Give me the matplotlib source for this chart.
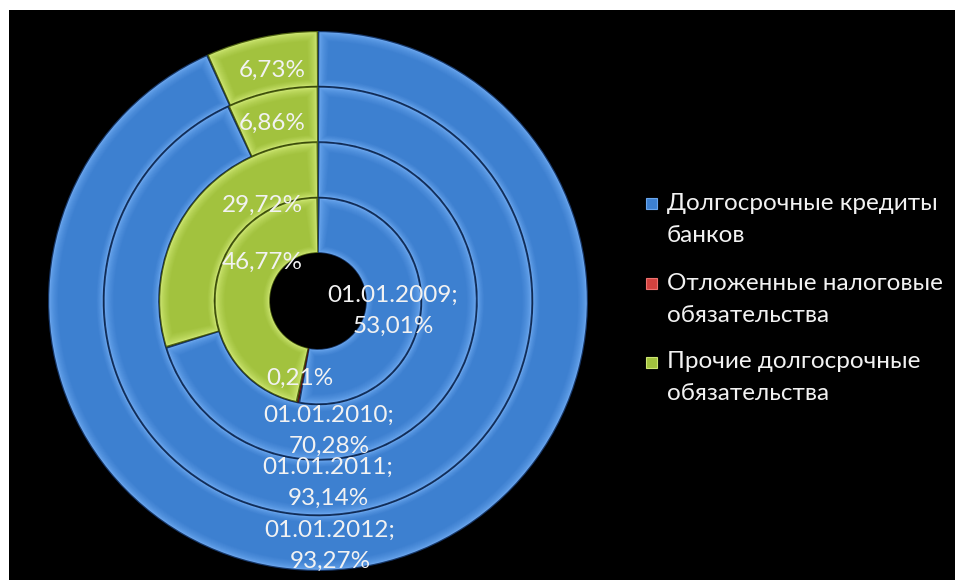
import matplotlib
matplotlib.use("Agg")
import matplotlib.pyplot as plt
from matplotlib.patches import Wedge, Rectangle
from matplotlib.colors import to_rgb
import numpy as np

plt.rcParams['font.family'] = ['Lato', 'DejaVu Sans']

# Data: one ring per reporting date (inner -> outer)
dates = ["01.01.2009", "01.01.2010", "01.01.2011", "01.01.2012"]
series = ["Долгосрочные кредиты\nбанков",
          "Отложенные налоговые\nобязательства",
          "Прочие долгосрочные\nобязательства"]
bank_loans = [53.01, 70.28, 93.14, 93.27]
deferred_tax = [0.21, 0.00, 0.00, 0.00]
other_lt = [46.77, 29.72, 6.86, 6.73]

base_cols = ["#3D80D0", "#D2423F", "#A2C23E"]
light_cols = ["#6AA6EE", "#EE7270", "#CDE672"]
dark_cols = ["#17386A", "#6A1616", "#4E6212"]

W, H = 955, 580
fig = plt.figure(figsize=(W / 100, H / 100), dpi=100, facecolor="white")
ax = fig.add_axes([0, 0, 1, 1])
ax.set_xlim(0, W)
ax.set_ylim(0, H)
ax.axis("off")

# dark chart area
ax.add_patch(Rectangle((9, 0), W - 9, H - 10, facecolor="black", edgecolor="none", zorder=0))

cx, cy = 318, H - 301
hole = 48
ring_w = (270 - hole) / 4


def mix(c1, c2, t):
    a, b = np.array(to_rgb(c1)), np.array(to_rgb(c2))
    return tuple(a + (b - a) * t)


def bevel(w, k):
    """Overlay a soft bevel on a pie wedge."""
    r_out, width = w.r, w.width
    r_in = r_out - width
    t1, t2 = w.theta1, w.theta2
    rm = (r_in + r_out) / 2
    steps = 10
    for i in range(steps + 1):
        inset = 1.2 + i * 0.9
        da = np.degrees(inset / rm)
        a1, a2 = t1 + da, t2 - da
        ro, ri = r_out - inset, r_in + inset * 0.7
        if a2 <= a1 or ro <= ri:
            break
        t = i / steps
        col = mix(light_cols[k], base_cols[k], min(1, t ** 0.6))
        ax.add_patch(Wedge(w.center, ro, a1, a2, width=ro - ri,
                           facecolor=col, edgecolor="none", zorder=2 + i * 0.01))


for j in range(len(dates)):
    vals = [bank_loans[j], deferred_tax[j], other_lt[j]]
    r = hole + ring_w * (j + 1)
    wedges, _ = ax.pie(vals, radius=r, center=(cx, cy), startangle=90,
                       counterclock=False, colors=dark_cols,
                       wedgeprops=dict(width=ring_w, edgecolor="none"),
                       normalize=True)
    for k, w in enumerate(wedges):
        if vals[k] > 0:
            bevel(w, k)

ax.set_xlim(0, W)
ax.set_ylim(0, H)
ax.set_aspect("auto")


def fmt(v):
    return f"{v:.2f}".replace(".", ",") + "%"


FS = 17.5
txt = dict(color="#F2F2F2", fontsize=FS, ha="center", va="center",
           zorder=5, linespacing=1.55)
blue_pos = [(393, 311), (329, 431), (328, 483), (330, 546)]
green_pos = [(262, 262), (262, 205), (272, 123), (272, 70)]
for j, d in enumerate(dates):
    x, y = blue_pos[j]
    ax.text(x, H - y, f"{d};\n{fmt(bank_loans[j])}", **txt)
    x, y = green_pos[j]
    ax.text(x, H - y, fmt(other_lt[j]), **txt)
ax.text(300, H - 378, fmt(deferred_tax[0]), **txt)

# legend: marker square + two text lines per series
leg_y = [203, 283, 362]
line_gap = 32
for k, label in enumerate(series):
    y0 = leg_y[k]
    ax.add_patch(Rectangle((646, H - y0 - 5.5), 11, 11, facecolor=base_cols[k],
                           edgecolor=light_cols[k], lw=0.8, zorder=5))
    for i, line in enumerate(label.split("\n")):
        ax.text(667, H - (y0 + i * line_gap), line, color="#F2F2F2", fontsize=FS,
                ha="left", va="center", zorder=5)

fig.savefig("out.png", dpi=100, facecolor="white")
